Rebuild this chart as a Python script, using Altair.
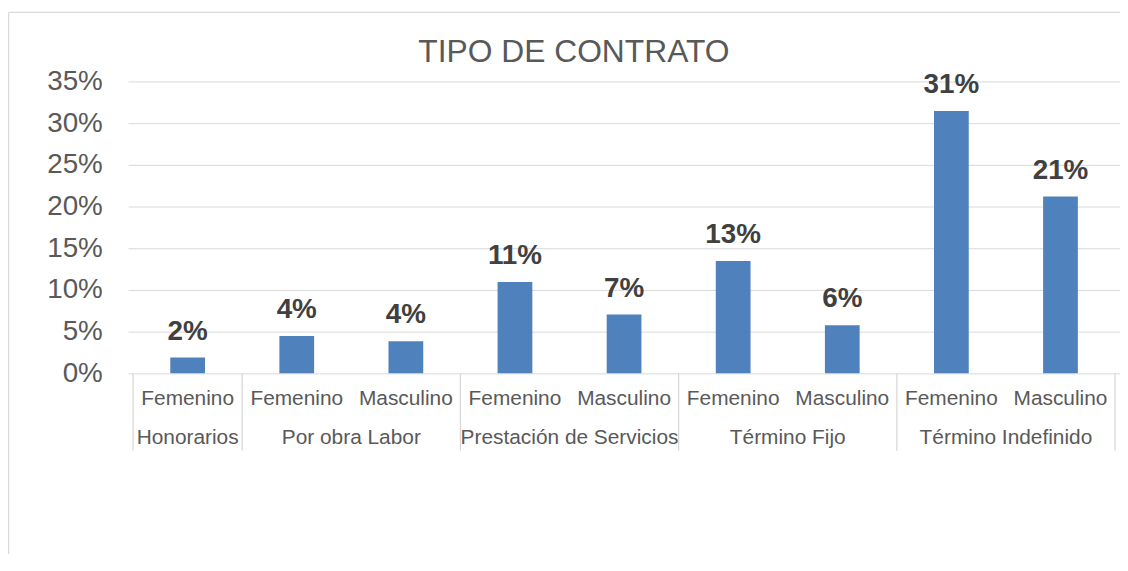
import altair as alt
import pandas as pd

# ---- data ----
contratos = ["Honorarios", "Por obra Labor", "Por obra Labor",
             "Prestación de Servicios", "Prestación de Servicios",
             "Término Fijo", "Término Fijo",
             "Término Indefinido", "Término Indefinido"]
generos = ["Femenino", "Femenino", "Masculino",
           "Femenino", "Masculino",
           "Femenino", "Masculino",
           "Femenino", "Masculino"]
valores = [0.019, 0.0448, 0.0385, 0.1094, 0.0704, 0.1348, 0.0576, 0.3147, 0.212]
y_ticks = [0, 0.05, 0.10, 0.15, 0.20, 0.25, 0.30, 0.35]
titulo = "TIPO DE CONTRATO"

df = pd.DataFrame({"contrato": contratos, "genero": generos, "valor": valores})
df["idx"] = range(len(df))

grp = df.groupby("contrato", sort=False)["idx"].agg(["min", "max"]).reset_index()
grp["centro"] = (grp["min"] + grp["max"]) / 2
bounds = sorted(set(list(grp["min"] - 0.5) + list(grp["max"] + 0.5)))
sep = pd.DataFrame({"b": bounds})

W, H = 999, 294
FONT = "Liberation Sans"
GRAY = "#595959"
LINE = "#d9d9d9"

xscale = alt.Scale(domain=[-0.5, len(df) - 0.5], nice=False, zero=False)
X = alt.X("idx:Q", scale=xscale, axis=None)

bars = alt.Chart(df).mark_bar(color="#4f81bd", size=35).encode(
    x=X,
    y=alt.Y("valor:Q",
            scale=alt.Scale(domain=[0, 0.35], nice=False),
            axis=alt.Axis(values=y_ticks, format=".0%", title=None,
                          domain=False, ticks=False, grid=True,
                          gridColor=LINE, gridWidth=1,
                          labelFont=FONT, labelFontSize=28,
                          labelColor=GRAY, labelPadding=26)),
)

labels = alt.Chart(df).mark_text(
    font=FONT, fontSize=28, fontWeight="bold", color="#404040",
    baseline="alphabetic", dy=-18
).encode(x=X, y="valor:Q", text=alt.Text("valor:Q", format=".0%"))

sub = alt.Chart(df).mark_text(
    font=FONT, fontSize=21, color=GRAY, baseline="alphabetic"
).encode(x=X, y=alt.value(H + 32), text="genero:N")

grp_lbl = alt.Chart(grp).mark_text(
    font=FONT, fontSize=21, color=GRAY, baseline="alphabetic"
).encode(x=alt.X("centro:Q", scale=xscale, axis=None),
         y=alt.value(H + 71), text="contrato:N")

seps = alt.Chart(sep).mark_rule(color=LINE, strokeWidth=1.3).encode(
    x=alt.X("b:Q", scale=xscale, axis=None),
    y=alt.value(H), y2=alt.value(H + 78))

one = pd.DataFrame({"t": [titulo]})
frame_left = alt.Chart(one).mark_rule(color=LINE, strokeWidth=1.3).encode(
    x=alt.value(-120.5), y=alt.value(-69.5), y2=alt.value(H + 300))
frame_top = alt.Chart(one).mark_rule(color=LINE, strokeWidth=1.3).encode(
    x=alt.value(-120.5), x2=alt.value(W + 20), y=alt.value(-69.5))
title_txt = alt.Chart(one).mark_text(
    font=FONT, fontSize=32, color=GRAY, baseline="alphabetic", align="center"
).encode(x=alt.value(449), y=alt.value(-20), text="t:N")

chart = alt.layer(frame_left, frame_top, title_txt, bars, labels, sub, grp_lbl, seps).properties(
    width=W, height=H,
    autosize=alt.AutoSizeParams(type="none"),
    padding={"left": 121, "top": 72, "right": 0, "bottom": 180},
).configure(background="white").configure_view(stroke=None)

chart.save("out.html", embed_options={"renderer": "svg", "actions": False})
